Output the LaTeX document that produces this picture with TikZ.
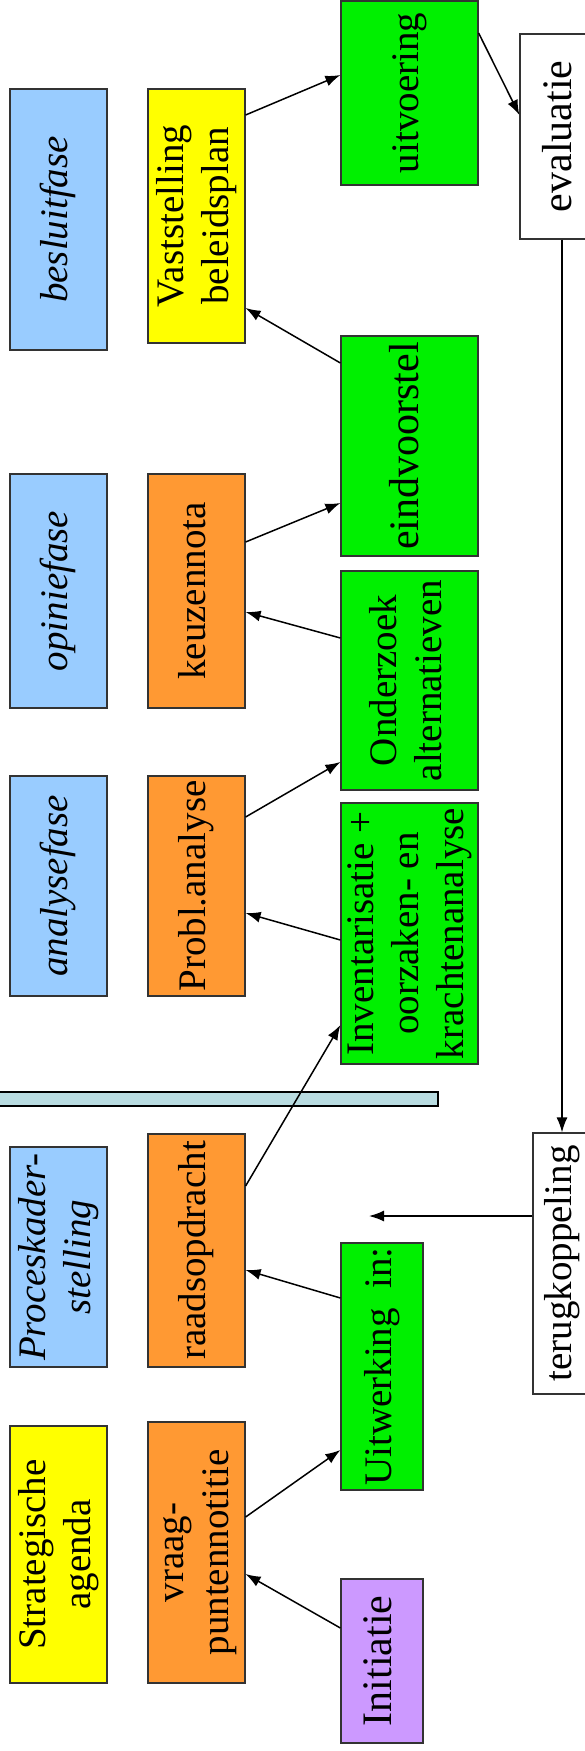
\documentclass[tikz,border=0pt]{standalone}
\usepackage{fontspec}
\setmainfont{Liberation Serif}
\usetikzlibrary{arrows.meta}
\definecolor{fasekleur}{RGB}{153,204,255}
\definecolor{geel}{RGB}{255,255,0}
\definecolor{oranje}{RGB}{255,153,51}
\definecolor{groen}{RGB}{0,240,0}
\definecolor{paars}{RGB}{204,153,255}
\definecolor{balk}{RGB}{185,220,225}
\newcommand{\vlabel}[1]{\rotatebox{90}{\begin{tabular}{@{}c@{}}#1\end{tabular}}}

\begin{document}
\begin{tikzpicture}[x=1pt, y=-1pt, >={Latex[length=15pt,width=11pt]},
    every node/.style={font=\fontsize{39}{45}\selectfont},
    blok/.style={draw=black!80, line width=1.2pt, inner sep=0pt},
    groot/.style={font=\fontsize{42}{45}\selectfont},
    fase/.style={blok, fill=fasekleur, minimum width=97pt, font=\fontsize{39}{45}\selectfont\itshape},
    midden/.style={blok, minimum width=97pt},
    stap/.style={blok, fill=groen, minimum width=137pt},
    smal/.style={blok, minimum width=82pt},
    pijl/.style={->, line width=1.5pt}]
    \path[use as bounding box, fill=white] (0,0) rectangle (585,1751);
    \clip (0,0) rectangle (585,1751);
    \draw[fill=balk, line width=1.2pt] (-5,1092) rectangle (438,1106);

    \node[fase, minimum height=261pt] (besluit) at (58.5,219.5) {\vlabel{besluitfase}};
    \node[fase, minimum height=234pt] (opinie) at (58.5,591) {\vlabel{opiniefase}};
    \node[fase, minimum height=220pt] (analyse) at (58.5,886) {\vlabel{analysefase}};
    \node[fase, minimum height=220pt] (kader) at (58.5,1257) {\vlabel{Proceskader-\\stelling}};
    \node[midden, fill=geel, minimum height=257pt] (strat) at (58.5,1554.5) {\vlabel{Strategische\\agenda}};

    \node[midden, fill=geel, minimum height=254pt] (vast) at (196.5,216) {\vlabel{Vaststelling\\beleidsplan}};
    \node[midden, fill=oranje, minimum height=234pt] (keuze) at (196.5,591) {\vlabel{keuzennota}};
    \node[midden, fill=oranje, minimum height=220pt] (probl) at (196.5,886) {\vlabel{Probl.analyse}};
    \node[midden, fill=oranje, minimum height=233pt] (raad) at (196.5,1250.5) {\vlabel{raadsopdracht}};
    \node[midden, fill=oranje, minimum height=261pt] (vraag) at (196.5,1552.5) {\vlabel{vraag-\\puntennotitie}};

    \node[stap, minimum height=184pt] (uitv) at (409.5,93) {\vlabel{uitvoering}};
    \node[stap, groot, minimum height=220pt] (eind) at (409.5,446) {\vlabel{eindvoorstel}};
    \node[stap, minimum height=219pt] (onderz) at (409.5,680.5) {\vlabel{Onderzoek\\alternatieven}};
    \node[stap, minimum height=261pt] (inv) at (409.5,933.5) {\vlabel{Inventarisatie +\\oorzaken- en\\krachtenanalyse}};
    \node[smal, fill=groen, minimum height=247pt] (uitw) at (382,1366.5) {\vlabel{Uitwerking\ \ in:}};
    \node[smal, groot, fill=paars, minimum height=164pt] (init) at (382,1661) {\vlabel{Initiatie}};

    \node[blok, groot, fill=white, minimum width=84pt, minimum height=205pt] (eval) at (562,136.5) {\vlabel{evaluatie}};
    \node[blok, fill=white, minimum width=58pt, minimum height=261pt] (terug) at (562,1263.5) {\vlabel{terugkoppeling}};
    \coordinate (terugpunt) at (369,1216);

    \foreach \a/\sa/\b/\sb in {vast/101/uitv/18, keuze/49/eind/-57, probl/69/onderz/-81.5,
        raad/64.5/inv/-91.5, vraag/35.5/uitw/-83.5, uitv/60/eval/21.5}
      \draw[pijl] ([yshift=\sa pt]\a.east) -- ([yshift=\sb pt]\b.west);
    \foreach \a/\sa/\b/\sb in {eind/83/vast/-92, onderz/42.5/keuze/-21, inv/-6.5/probl/-27,
        uitw/68.5/raad/-19.5, init/33/vraag/-21.5}
      \draw[pijl] ([yshift=\sa pt]\a.west) -- ([yshift=\sb pt]\b.east);
    \draw[pijl] (eval) -- (terug);
    \draw[pijl] ([yshift=47.5pt]terug.west) -- (terugpunt);
\end{tikzpicture}
\end{document}
